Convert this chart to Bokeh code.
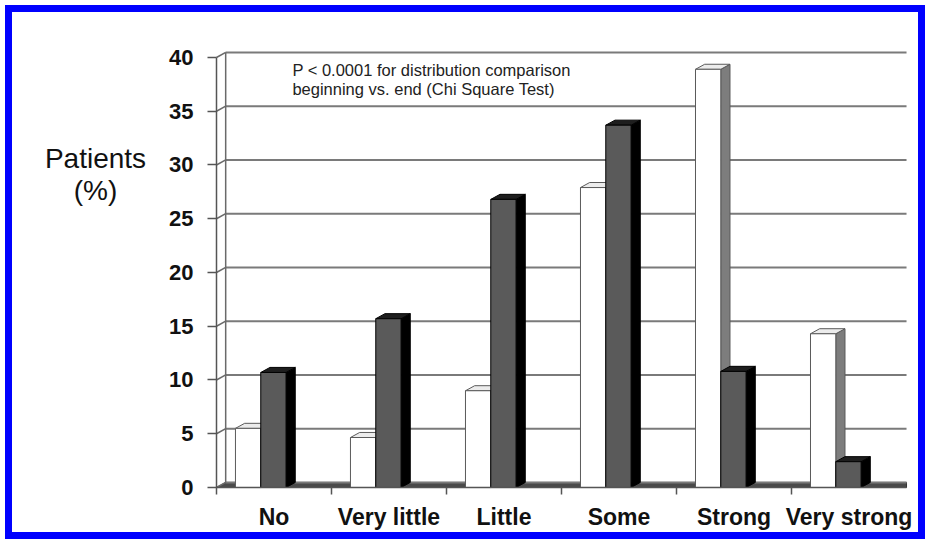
from bokeh.plotting import figure
from bokeh.models import Range1d, FixedTicker, Label
from bokeh.embed import file_html
from bokeh.resources import INLINE

# ---- data ----
categories = ["No", "Very little", "Little", "Some", "Strong", "Very strong"]
beginning_pct = [5.5, 4.65, 9.0, 27.9, 38.9, 14.3]   # white bars
end_pct = [10.7, 15.7, 26.8, 33.7, 10.8, 2.4]        # dark bars
y_ticks = [0, 5, 10, 15, 20, 25, 30, 35, 40]
note_lines = ["P < 0.0001 for distribution comparison",
              "beginning vs. end (Chi Square Test)"]
y_title_lines = ["Patients", "(%)"]

# ---- 3D styling / layout constants ----
DX = 0.08      # depth offset in category units
DY = 0.47      # depth offset in value units
BAR_W = 0.22
OFFSET = 0.165
n = len(categories)
ymax = max(y_ticks)
X_START, X_END = -1.878, 6.165
Y_START, Y_END = -4.837, 45.3

FONT = "Liberation Sans"
BLUE = "linear-gradient(#0000ff,#0000ff)"

p = figure(width=925, height=539,
           x_range=Range1d(X_START, X_END), y_range=Range1d(Y_START, Y_END),
           output_backend="svg", toolbar_location=None,
           min_border_left=0, min_border_right=0,
           min_border_top=0, min_border_bottom=0)
p.outline_line_color = None
p.grid.visible = False
p.background_fill_color = None
p.border_fill_color = None
p.styles = {
    "background-color": "#ffffff",
    "background-image": ", ".join([BLUE] * 4),
    "background-position": "5px 5px, 5px 532px, 5px 5px, 918px 5px",
    "background-size": "920px 7px, 920px 7px, 7px 534px, 7px 534px",
    "background-repeat": "no-repeat",
}

# ---- floor ----
p.patch([0, n, n, DX], [0, 0, DY, DY], fill_color="#4a4a4a",
        line_color="#333333", line_width=1)

# ---- back wall grid lines ----
p.segment(x0=[DX] * len(y_ticks), y0=[v + DY for v in y_ticks],
          x1=[n] * len(y_ticks), y1=[v + DY for v in y_ticks],
          line_color="#7a7a7a", line_width=2)

# ---- left wall ----
p.segment(x0=[0] * len(y_ticks), y0=y_ticks,
          x1=[DX] * len(y_ticks), y1=[v + DY for v in y_ticks],
          line_color="#6a6a6a", line_width=1.5)
p.segment(x0=[DX], y0=[DY], x1=[DX], y1=[ymax + DY],
          line_color="#6a6a6a", line_width=1.5)


def bar_set(values, shift, front, side, top, edge):
    lefts = [i + OFFSET + shift for i in range(len(values))]
    rights = [l + BAR_W for l in lefts]
    side_xs = [[r, r + DX, r + DX, r] for r in rights]
    side_ys = [[0, DY, v + DY, v] for v in values]
    top_xs = [[l, r, r + DX, l + DX] for l, r in zip(lefts, rights)]
    top_ys = [[v, v, v + DY, v + DY] for v in values]
    p.patches(side_xs, side_ys, fill_color=side, line_color=edge, line_width=1)
    p.patches(top_xs, top_ys, fill_color=top, line_color=edge, line_width=1)
    p.quad(left=lefts, right=rights, bottom=[0] * len(values), top=values,
           fill_color=front, line_color=edge, line_width=1)


bar_set(beginning_pct, 0.0, "#ffffff", "#7d7d7d", "#ececec", "#5a5a5a")
bar_set(end_pct, BAR_W, "#5a5a5a", "#000000", "#1e1e1e", "#000000")

# ---- axes (fixed at the chart's origin) ----
yax = p.yaxis[0]
yax.fixed_location = 0
yax.ticker = FixedTicker(ticks=y_ticks)
yax.bounds = (0, ymax)
yax.axis_line_color = "#555555"
yax.axis_line_width = 1.5
yax.major_tick_line_color = "#555555"
yax.major_tick_line_width = 1.5
yax.major_tick_out = 9
yax.major_tick_in = 0
yax.minor_tick_line_color = None
yax.major_label_standoff = 14
yax.major_label_text_font = FONT
yax.major_label_text_font_style = "bold"
yax.major_label_text_font_size = "22px"
yax.major_label_text_color = "#111111"

centers = [i + 0.5 for i in range(n)]
xax = p.xaxis[0]
xax.fixed_location = 0
xax.ticker = FixedTicker(ticks=centers, minor_ticks=list(range(n)))
xax.major_label_overrides = {c: name for c, name in zip(centers, categories)}
xax.bounds = (0, n)
xax.axis_line_color = "#555555"
xax.axis_line_width = 1.5
xax.major_tick_line_color = None
xax.major_tick_out = 7
xax.major_tick_in = 0
xax.minor_tick_line_color = "#555555"
xax.minor_tick_line_width = 1.5
xax.minor_tick_out = 7
xax.minor_tick_in = 0
xax.major_label_standoff = 10
xax.major_label_text_font = FONT
xax.major_label_text_font_style = "bold"
xax.major_label_text_font_size = "23px"
xax.major_label_text_color = "#111111"

# ---- note inside the plot ----
for line, yv in zip(note_lines, [38.8, 37.05]):
    p.add_layout(Label(x=0.66, y=yv, text=line, text_font=FONT,
                       text_font_size="16.5px", text_color="#222222",
                       text_baseline="middle", text_align="left"))

# ---- y title (horizontal, left of axis) ----
for line, yv in zip(y_title_lines, [30.63, 27.65]):
    p.add_layout(Label(x=-1.052, y=yv, text=line, text_font=FONT,
                       text_font_size="28px", text_color="#111111",
                       text_baseline="middle", text_align="center"))

open("out.html", "w").write(file_html(p, INLINE))
